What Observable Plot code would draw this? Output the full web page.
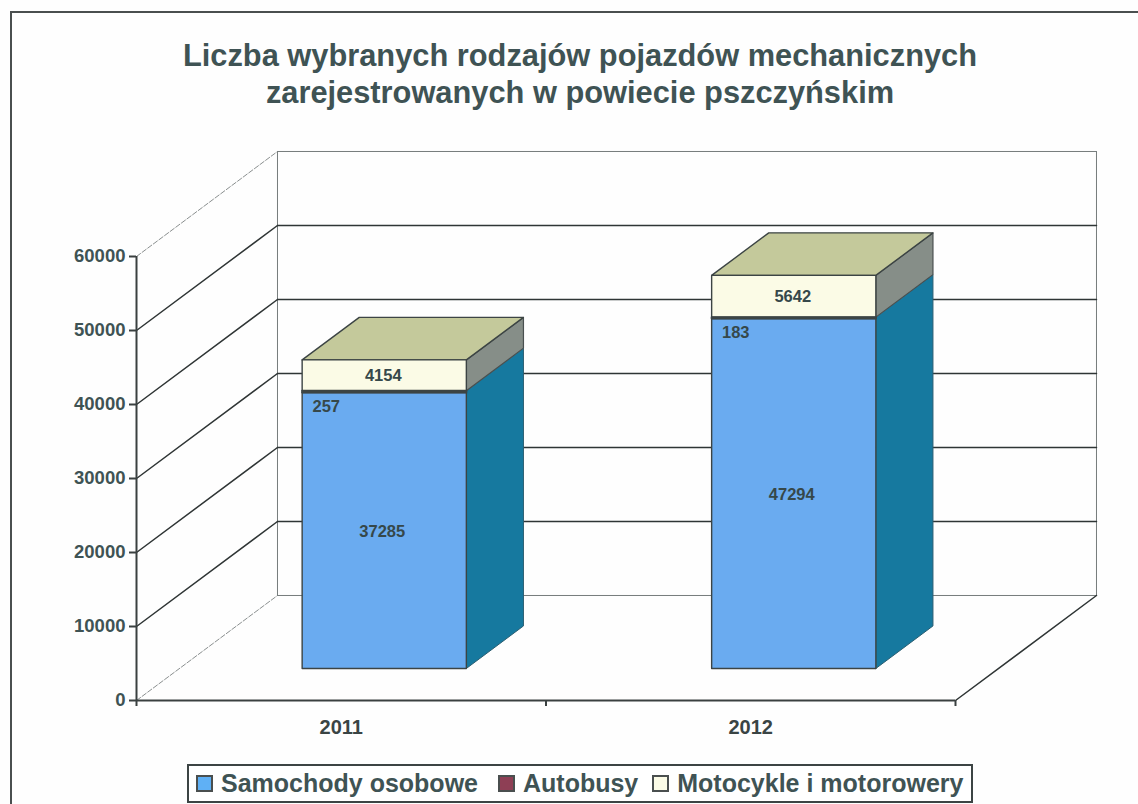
<!DOCTYPE html>
<html lang="pl">
<head>
<meta charset="utf-8">
<script src="https://cdn.jsdelivr.net/npm/d3@7"></script>
<script src="https://cdn.jsdelivr.net/npm/@observablehq/plot@0.6"></script>
<style>
html,body{margin:0;padding:0;background:#fff;}
#page{position:relative;width:1138px;height:804px;overflow:hidden;font-family:"Liberation Sans",Arial,sans-serif;background:#fefefe;}
#frame{position:absolute;left:10px;top:11px;width:1140px;height:810px;border:2px solid #4a4f4f;box-sizing:border-box;}
#title{position:relative;box-sizing:border-box;height:130px;padding-top:37px;padding-left:22px;text-align:center;font-size:30.8px;font-weight:bold;line-height:37px;color:#3f5354;}
#chart{position:relative;}
#chart svg{display:block;background:transparent;}
#legend{position:absolute;left:187px;top:764px;width:786px;height:39px;box-sizing:border-box;border:2px solid #3c4444;background:#fff;display:flex;align-items:center;padding-left:7px;font-size:25px;font-weight:bold;color:#3f5354;white-space:nowrap;}
#legend i{display:inline-block;width:13px;height:13px;border:2px solid #4a4f4f;margin-right:8px;}
#legend span{display:flex;align-items:center;margin-right:20px;}
#legend span:nth-child(2){margin-right:14px;}
</style>
</head>
<body>
<div id="page">
<div id="frame"></div>
<div id="title">Liczba wybranych rodzajów pojazdów mechanicznych<br>zarejestrowanych w powiecie pszczyńskim</div>
<div id="chart"></div>
<div id="legend"></div>
</div>
<script>
const years = ["2011", "2012"];
const seriesNames = ["Samochody osobowe", "Autobusy", "Motocykle i motorowery"];
const seriesColors = ["#5fb0f5", "#8e3f55", "#fbfbe6"];
const cars = [37285, 47294];
const buses = [257, 183];
const motorcycles = [4154, 5642];
const yTicks = [0, 10000, 20000, 30000, 40000, 50000, 60000];

// Oblique 3D projection expressed in data units
const DEPTH_X = 0.3443, DEPTH_Y = 14190;
const barZ0 = 0.305, barZ1 = 0.71, barPad = 0.2995;
const pt = (x, y, z) => ({x: x + z * DEPTH_X, y: y + z * DEPTH_Y});

const edge = "#3c4444", thin = "#777d7d";
const face = (pts, fill, stroke = edge, strokeWidth = 1.4) =>
  Plot.line([...pts, pts[0]], {x: "x", y: "y", fill, stroke, strokeWidth});
const seg = (a, b, stroke, strokeWidth, strokeDasharray) =>
  Plot.line([a, b], {x: "x", y: "y", stroke, strokeWidth, strokeDasharray});

const marks = [];

// walls
const yMax = yTicks[yTicks.length - 1];
marks.push(seg(pt(0, 0, 1), pt(0, yMax, 1), thin, 1));
marks.push(seg(pt(2, 0, 1), pt(2, yMax, 1), thin, 1));
for (const t of yTicks) {
  const outer = t === 0 || t === yMax;
  marks.push(seg(pt(0, t, 0), pt(0, t, 1), outer ? "#8a8f8f" : "#2f3535", outer ? 1 : 1.5, outer ? "5,2" : null));
  marks.push(seg(pt(0, t, 1), pt(2, t, 1), outer ? thin : "#2f3535", outer ? 1 : 1.5));
}
marks.push(seg(pt(2, 0, 0), pt(2, 0, 1), "#2f3535", 1.5));

// bars
years.forEach((yr, i) => {
  const x0 = i + barPad, x1 = i + 1 - barPad;
  const y1 = cars[i], y2 = y1 + buses[i], y3 = y2 + motorcycles[i];
  // side
  marks.push(face([pt(x1, 0, barZ0), pt(x1, 0, barZ1), pt(x1, y2, barZ1), pt(x1, y2, barZ0)], "#16799f", "#2c5f72", 1));
  marks.push(face([pt(x1, y2, barZ0), pt(x1, y2, barZ1), pt(x1, y3, barZ1), pt(x1, y3, barZ0)], "#868e88", "#4a5050", 1.2));
  // top
  marks.push(face([pt(x0, y3, barZ0), pt(x0, y3, barZ1), pt(x1, y3, barZ1), pt(x1, y3, barZ0)], "#c4c99b"));
  // front
  marks.push(face([pt(x0, 0, barZ0), pt(x1, 0, barZ0), pt(x1, y1, barZ0), pt(x0, y1, barZ0)], "#6aabf0"));
  marks.push(face([pt(x0, y2, barZ0), pt(x1, y2, barZ0), pt(x1, y3, barZ0), pt(x0, y3, barZ0)], seriesColors[2]));
  marks.push(face([pt(x0, y1, barZ0), pt(x1, y1, barZ0), pt(x1, y2, barZ0), pt(x0, y2, barZ0)], seriesColors[1], edge, 2));
});

// value labels
const labels = (vals, start, dx, dy) => Plot.text(vals.map((v, i) => {
  const p = pt(i + 0.5, start[i] + v / 2, barZ0);
  return {x: p.x, y: p.y, v: String(v)};
}), {x: "x", y: "y", text: "v", dx, dy, fontSize: 16.5, fontWeight: "bold", fill: "#36484a"});
marks.push(labels(cars, cars.map(() => 0), -2, 1));
marks.push(labels(buses, cars, -58, 15));
marks.push(labels(motorcycles, cars.map((c, i) => c + buses[i]), -1, 0));

// axes
marks.push(Plot.ruleX([0], {y1: 0, y2: yMax, stroke: "#3a4040", strokeWidth: 2}));
marks.push(Plot.ruleY([0], {x1: 0, x2: 2, stroke: "#3a4040", strokeWidth: 2}));
marks.push(Plot.axisY(yTicks, {anchor: "left", label: null, tickSize: 7, tickPadding: 4, stroke: "#3a4040", strokeWidth: 2, tickFormat: d => String(d), fontSize: 18.5, fontWeight: "bold", fill: "#3f5354"}));
marks.push(Plot.axisX([0, 1, 2], {anchor: "bottom", label: null, tickSize: 6, tickFormat: () => "", stroke: "#3a4040", strokeWidth: 2}));
marks.push(Plot.axisX([0.5, 1.5], {anchor: "bottom", label: null, tickSize: 0, tickPadding: 19, tickFormat: d => years[Math.floor(d)], fontSize: 20, fontWeight: "bold", fill: "#3a4444"}));

const chart = Plot.plot({
  width: 1138,
  height: 630,
  marginLeft: 136,
  marginRight: 183,
  marginTop: 126,
  marginBottom: 60,
  style: {fontFamily: '"Liberation Sans", Arial, sans-serif', overflow: "visible"},
  x: {domain: [0, 2]},
  y: {domain: [0, yMax]},
  marks
});
document.getElementById("chart").appendChild(chart);

const legend = document.getElementById("legend");
seriesNames.forEach((name, i) => {
  const s = document.createElement("span");
  const sw = document.createElement("i");
  sw.style.background = seriesColors[i];
  s.appendChild(sw);
  s.appendChild(document.createTextNode(name));
  legend.appendChild(s);
});
</script>
</body>
</html>
